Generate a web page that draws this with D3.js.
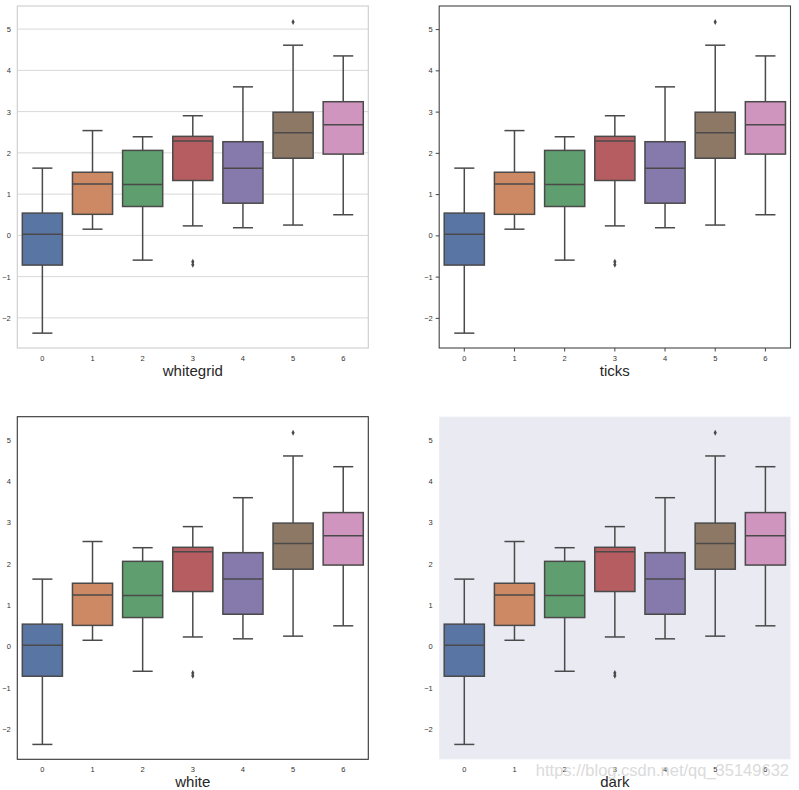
<!DOCTYPE html>
<html><head><meta charset="utf-8">
<script src="https://cdn.jsdelivr.net/npm/d3@7"></script>
<style>body{margin:0;background:#fff}svg{display:block}</style>
</head><body>
<svg id="c" width="799" height="790"></svg>
<script>
const categories = ["0","1","2","3","4","5","6"];
const whiskerLow = [-2.37, 0.15, -0.60, 0.23, 0.185, 0.25, 0.50];
const q1 =         [-0.72, 0.51, 0.70, 1.33, 0.78, 1.87, 1.97];
const medians =    [0.03, 1.245, 1.235, 2.29, 1.63, 2.49, 2.68];
const q3 =         [0.54, 1.53, 2.06, 2.40, 2.27, 2.985, 3.24];
const whiskerHigh =[1.63, 2.54, 2.39, 2.90, 3.60, 4.61, 4.35];
const outliers =   [[], [], [], [-0.64, -0.71], [], [5.17], []];
const yTicks = [-2, -1, 0, 1, 2, 3, 4, 5];
const palette = ["#4C72B0","#DD8452","#55A868","#C44E52","#8172B3","#937860","#DA8BC3"];
const styles = ["whitegrid","ticks","white","dark"];
const watermark = "https://blog.csdn.net/qq_35149632";

const svg = d3.select("#c");
const fills = palette.map(c => { const h = d3.hsl(c); h.s *= 0.75; return h.formatHex(); });
const lineGray = "#4a4a4a";
const font = "'Liberation Sans', Arial, sans-serif";

const panels = [
  {style:"whitegrid", x0:17.3, x1:368.3, y0:6,     y1:348},
  {style:"ticks",     x0:439.2, x1:790.5, y0:6,    y1:348},
  {style:"white",     x0:17.3, x1:368.3, y0:416.7, y1:759.3},
  {style:"dark",      x0:439.2, x1:790.5, y0:416.7, y1:759.3}
];

panels.forEach(p => {
  const g = svg.append("g");
  const x = d3.scaleBand().domain(categories).range([p.x0, p.x1]).padding(0);
  const y = d3.scaleLinear().domain([-2.73, 5.56]).range([p.y1, p.y0]);
  const bw = x.bandwidth()*0.8;

  if (p.style === "dark") {
    g.append("rect").attr("x",p.x0).attr("y",p.y0).attr("width",p.x1-p.x0).attr("height",p.y1-p.y0).attr("fill","#EAEAF2");
  }
  if (p.style === "whitegrid") {
    g.selectAll("line.grid").data(yTicks).join("line")
      .attr("x1",p.x0).attr("x2",p.x1).attr("y1",d=>y(d)).attr("y2",d=>y(d))
      .attr("stroke","#d8d8d8").attr("stroke-width",1);
  }

  const tickLen = p.style === "ticks" ? 3.5 : 0;
  const yAxis = d3.axisLeft(y).tickValues(yTicks).tickFormat(d3.format("d")).tickSizeInner(tickLen).tickSizeOuter(0).tickPadding(p.style==="ticks"?3:6.5);
  const xAxis = d3.axisBottom(x).tickSizeInner(tickLen).tickSizeOuter(0).tickPadding(p.style==="ticks"?4:7.5);
  const ya = g.append("g").attr("transform",`translate(${p.x0},0)`).call(yAxis);
  const xa = g.append("g").attr("transform",`translate(0,${p.y1})`).call(xAxis);
  [ya, xa].forEach(a => {
    a.select(".domain").remove();
    a.selectAll("text").attr("font-family",font).attr("font-size",7.5).attr("fill","#333");
    a.selectAll("line").attr("stroke","#444").attr("stroke-width",1);
  });

  // frame
  let frameColor = null;
  if (p.style === "whitegrid") frameColor = "#cccccc";
  if (p.style === "ticks") frameColor = "#444";
  if (p.style === "white") frameColor = "#333";
  if (frameColor) {
    g.append("rect").attr("x",p.x0).attr("y",p.y0).attr("width",p.x1-p.x0).attr("height",p.y1-p.y0)
      .attr("fill","none").attr("stroke",frameColor).attr("stroke-width",1.1);
  }

  const boxes = g.selectAll("g.box").data(categories).join("g");
  boxes.each(function(c, i) {
    const b = d3.select(this);
    const cx = x(c) + x.bandwidth()/2;
    b.append("line").attr("x1",cx).attr("x2",cx).attr("y1",y(whiskerLow[i])).attr("y2",y(q1[i]))
      .attr("stroke",lineGray).attr("stroke-width",1.5);
    b.append("line").attr("x1",cx).attr("x2",cx).attr("y1",y(q3[i])).attr("y2",y(whiskerHigh[i]))
      .attr("stroke",lineGray).attr("stroke-width",1.5);
    [whiskerLow[i], whiskerHigh[i]].forEach(v => {
      b.append("line").attr("x1",cx-bw/4).attr("x2",cx+bw/4).attr("y1",y(v)).attr("y2",y(v))
        .attr("stroke",lineGray).attr("stroke-width",1.5);
    });
    b.append("rect").attr("x",cx-bw/2).attr("width",bw).attr("y",y(q3[i])).attr("height",y(q1[i])-y(q3[i]))
      .attr("fill",fills[i]).attr("stroke",lineGray).attr("stroke-width",1.5);
    b.append("line").attr("x1",cx-bw/2).attr("x2",cx+bw/2).attr("y1",y(medians[i])).attr("y2",y(medians[i]))
      .attr("stroke",lineGray).attr("stroke-width",1.5);
    outliers[i].forEach(v => {
      const yy = y(v);
      b.append("path").attr("d",`M${cx},${yy-3}L${cx+1.6},${yy}L${cx},${yy+3}L${cx-1.6},${yy}Z`)
        .attr("fill",lineGray);
    });
  });

  g.append("text").attr("x",(p.x0+p.x1)/2).attr("y",p.y1+27.5).attr("text-anchor","middle")
    .attr("font-family",font).attr("font-size",15).attr("fill","#262626").text(p.style);

  if (p.style === "dark") {
    g.append("text").attr("x",789).attr("y",p.y1+17).attr("text-anchor","end")
      .attr("font-family",font).attr("font-size",16.5).attr("fill","#cfcfcf").attr("opacity",0.75).text(watermark);
  }
});
</script>
</body></html>
